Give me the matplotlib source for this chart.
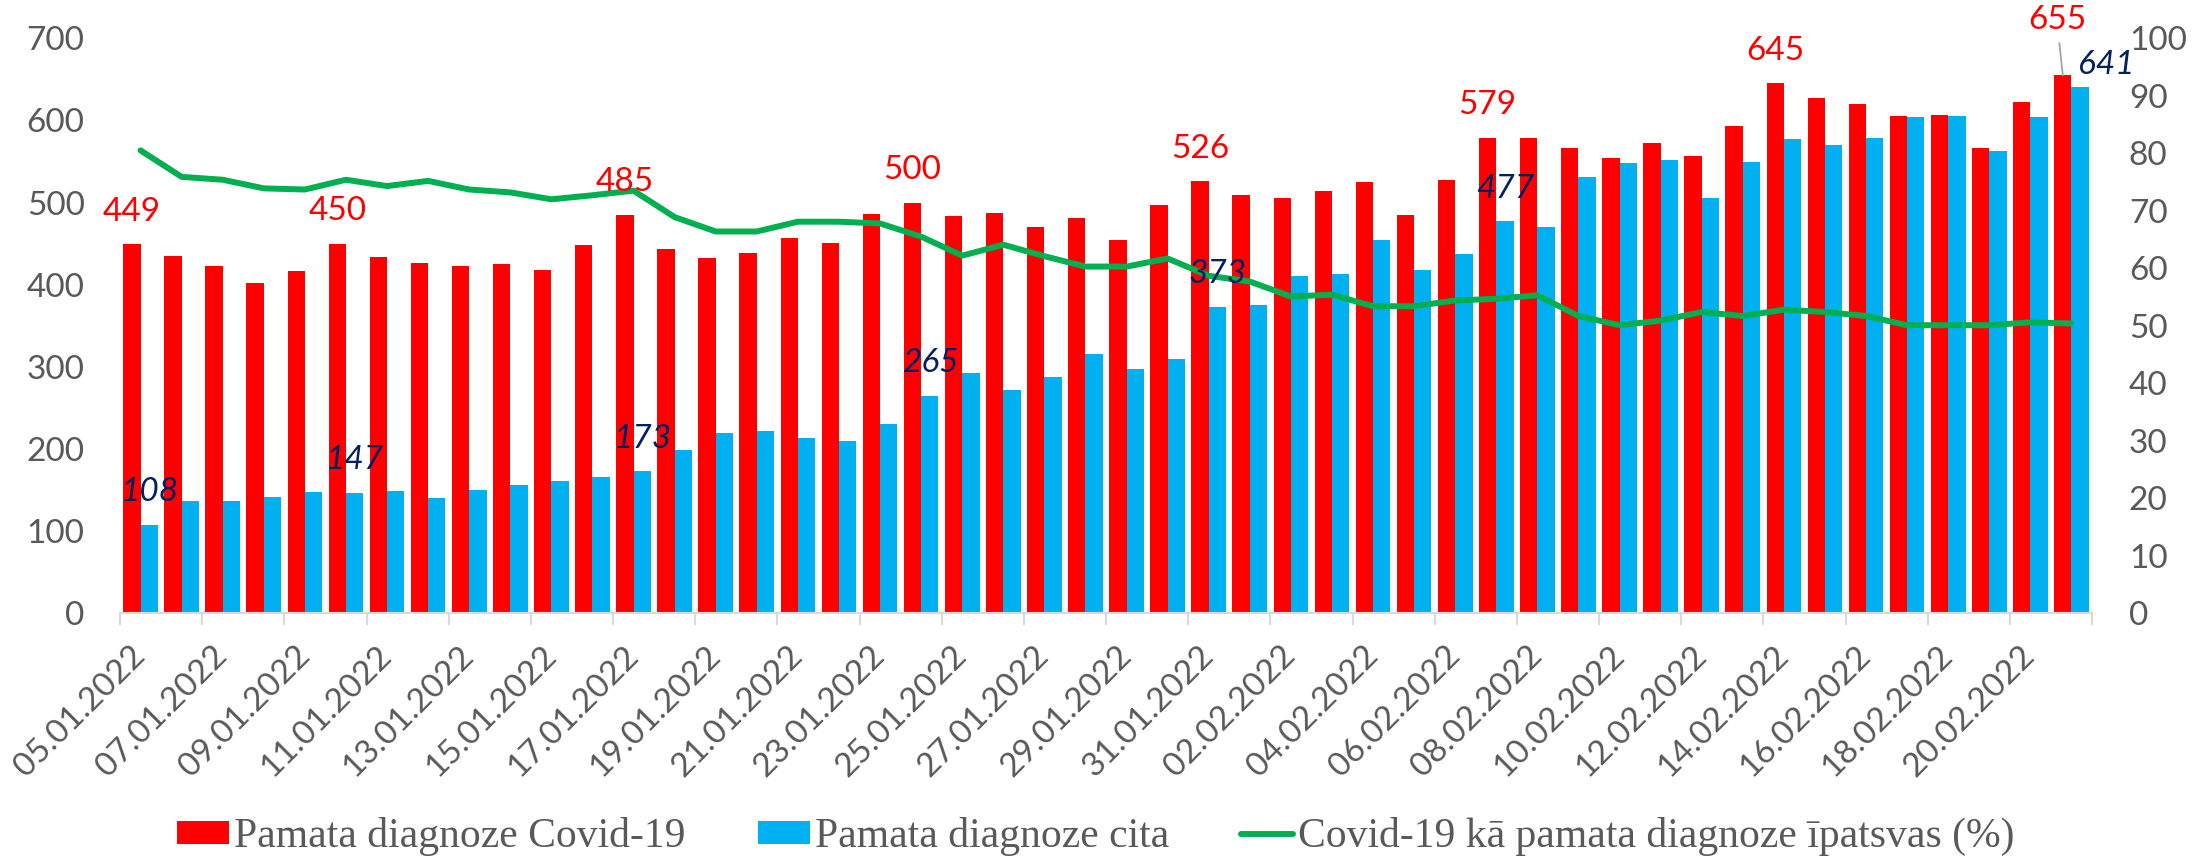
import numpy as np
import matplotlib
matplotlib.use("Agg")
import matplotlib.pyplot as plt

# ----------------------
# data
# ----------------------
dates = ["05.01.2022", "06.01.2022", "07.01.2022", "08.01.2022", "09.01.2022", "10.01.2022",
         "11.01.2022", "12.01.2022", "13.01.2022", "14.01.2022", "15.01.2022", "16.01.2022",
         "17.01.2022", "18.01.2022", "19.01.2022", "20.01.2022", "21.01.2022", "22.01.2022",
         "23.01.2022", "24.01.2022", "25.01.2022", "26.01.2022", "27.01.2022", "28.01.2022",
         "29.01.2022", "30.01.2022", "31.01.2022", "01.02.2022", "02.02.2022", "03.02.2022",
         "04.02.2022", "05.02.2022", "06.02.2022", "07.02.2022", "08.02.2022", "09.02.2022",
         "10.02.2022", "11.02.2022", "12.02.2022", "13.02.2022", "14.02.2022", "15.02.2022",
         "16.02.2022", "17.02.2022", "18.02.2022", "19.02.2022", "20.02.2022", "21.02.2022"]

covid = [449, 435, 423, 402, 417, 450, 434, 427, 423, 425, 418, 448,
         485, 444, 433, 439, 457, 451, 486, 500, 484, 487, 470, 481,
         454, 497, 526, 509, 506, 514, 525, 485, 527, 579, 579, 567,
         554, 572, 557, 593, 645, 627, 620, 606, 607, 567, 623, 655]

other = [108, 137, 137, 141, 148, 147, 149, 140, 150, 156, 161, 166,
         173, 199, 219, 222, 213, 210, 230, 265, 292, 272, 288, 316,
         297, 309, 373, 375, 411, 413, 455, 418, 438, 477, 470, 531,
         548, 552, 505, 550, 577, 570, 579, 604, 606, 563, 604, 641]

share = [80.5, 75.9, 75.4, 73.9, 73.7, 75.4, 74.3, 75.2, 73.7, 73.2, 72.0, 72.7,
         73.5, 68.9, 66.4, 66.4, 68.1, 68.1, 67.8, 65.5, 62.2, 64.1, 62.1, 60.3,
         60.3, 61.7, 58.7, 57.7, 55.1, 55.4, 53.4, 53.4, 54.4, 54.7, 55.3, 51.7,
         50.1, 50.9, 52.4, 51.7, 52.8, 52.4, 51.7, 50.1, 50.1, 50.1, 50.6, 50.4]

# which days carry a value label
red_labelled = [0, 5, 12, 19, 26, 33, 40, 47]
blue_labelled = [0, 5, 12, 19, 26, 33, 47]

RED = "#FF0000"
BLUE = "#00B0F0"
GREEN = "#00B050"
GREY = "#595959"
NAVY = "#002060"

num_font = ["Lato", "DejaVu Sans"]
leg_font = ["Liberation Serif", "DejaVu Serif"]

# ----------------------
# plot
# ----------------------
fig = plt.figure(figsize=(22.08, 8.61), dpi=100)
ax = fig.add_axes([0.05435, 0.2877, 0.89312, 0.66783])
ax2 = ax.twinx()
ax2.set_position(ax.get_position())

x = np.arange(len(dates))
w = 0.422
b1 = ax.bar(x - w / 2, covid, w, color=RED, label="Pamata diagnoze Covid-19")
b2 = ax.bar(x + w / 2, other, w, color=BLUE, label="Pamata diagnoze cita")
ln, = ax2.plot(x, share, color=GREEN, lw=4.3, solid_joinstyle="round",
               solid_capstyle="round",
               label="Covid-19 kā pamata diagnoze īpatsvas (%)")

ax.set_xlim(-0.5, len(dates) - 0.5)
ax.set_ylim(0, 700)
ax2.set_ylim(0, 100)
ax.set_yticks(range(0, 701, 100))
ax2.set_yticks(range(0, 101, 10))

for a in (ax, ax2):
    for s in a.spines.values():
        s.set_visible(False)
ax.spines["bottom"].set_visible(True)
ax.spines["bottom"].set_color("#D9D9D9")
ax.spines["bottom"].set_linewidth(1.5)

ax.tick_params(axis="y", length=0, pad=25.5, labelsize=24, labelcolor=GREY)
ax2.tick_params(axis="y", length=0, pad=26.5, labelsize=24, labelcolor=GREY)
for lab in ax.get_yticklabels() + ax2.get_yticklabels():
    lab.set_family(num_font)

# x labels every second day, tick marks on category borders
ax.set_xticks(x[::2])
ax.set_xticklabels(dates[::2], rotation=45, ha="right", va="center",
                   rotation_mode="anchor", family=num_font)
ax.set_xticks(np.arange(-0.5, len(dates), 2), minor=True)
ax.tick_params(axis="x", which="major", length=0, pad=27, labelsize=24, labelcolor=GREY)
ax.tick_params(axis="x", which="minor", length=8.6, width=1.5, color="#D9D9D9")

# data labels
for i in red_labelled:
    if i == len(dates) - 1:
        ax2.annotate(str(covid[i]), xy=(x[i] - w / 2, covid[i]), xycoords=ax.transData,
                     xytext=(-4.3, 40), textcoords="offset points", ha="center", va="center",
                     fontsize=24, color=RED, family=num_font,
                     arrowprops=dict(arrowstyle="-", color="#A6A6A6", lw=1.3,
                                     shrinkA=4, shrinkB=0))
    else:
        ax2.annotate(str(covid[i]), xy=(x[i] - w / 2, covid[i]), xycoords=ax.transData,
                     xytext=(0, 23.5), textcoords="offset points", ha="center", va="center",
                     fontsize=24, color=RED, family=num_font)
for i in blue_labelled:
    off = (18.5, 15.4) if i == len(dates) - 1 else (0, 23.5)
    ax2.annotate(str(other[i]), xy=(x[i] + w / 2, other[i]), xycoords=ax.transData,
                 xytext=off, textcoords="offset points", ha="center", va="center",
                 fontsize=24, color=NAVY, style="italic", family=num_font)

fig.legend(handles=[b1, b2, ln], loc="center", bbox_to_anchor=(1096 / 2208, 0.028),
           ncol=3, frameon=False, borderpad=0, handlelength=1.25, handleheight=0.5,
           handletextpad=0.12, columnspacing=1.73,
           prop={"family": leg_font, "size": 30}, labelcolor=GREY)

fig.savefig("out.png", dpi=100)
